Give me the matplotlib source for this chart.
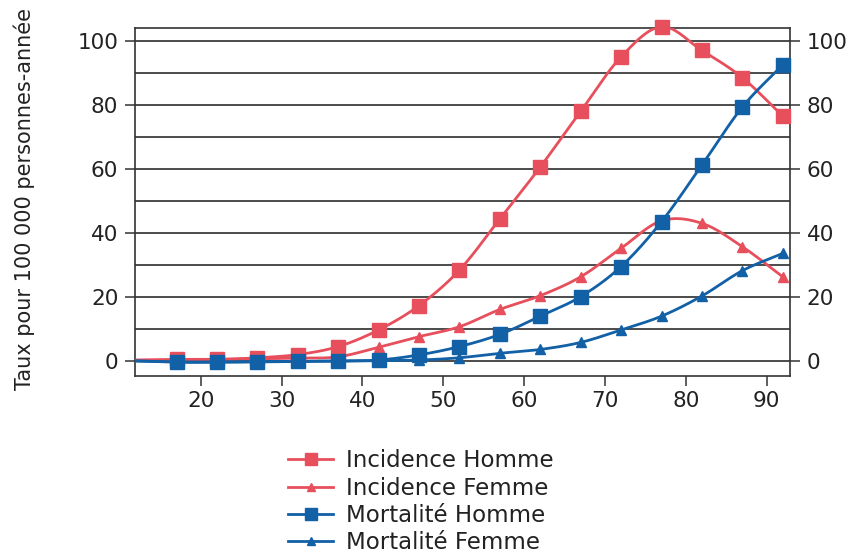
import numpy as np
import matplotlib
matplotlib.use("Agg")
import matplotlib.pyplot as plt
from matplotlib.lines import Line2D

plt.rcParams['font.family'] = ['DejaVu Sans']

ages = [12, 17, 22, 27, 32, 37, 42, 47, 52, 57, 62, 67, 72, 77, 82, 87, 92]
incidence_homme = [0.3, 0.5, 0.5, 1.0, 2.0, 4.5, 9.7, 17.3, 28.4, 44.4, 60.6, 78.0, 95.0, 104.4, 97.0, 88.5, 76.5]
incidence_femme = [0.2, 0.3, 0.5, 0.7, 0.9, 1.3, 4.3, 7.6, 10.7, 16.1, 20.4, 26.3, 35.2, 43.8, 43.0, 35.7, 26.3]
mortalite_homme = [0.0, -0.3, -0.3, -0.2, -0.1, 0.0, 0.3, 1.9, 4.5, 8.3, 14.0, 20.1, 29.5, 43.5, 61.2, 79.3, 92.5]
mortalite_femme = [0.0, -0.4, -0.4, -0.3, -0.2, -0.1, 0.1, 0.3, 1.0, 2.4, 3.6, 5.8, 9.7, 14.0, 20.3, 28.2, 33.6]

labels = ["Incidence Homme", "Incidence Femme", "Mortalité Homme", "Mortalité Femme"]
RED = "#E84F5C"
BLUE = "#1260A6"
colors = [RED, RED, BLUE, BLUE]
markers = ["s", "^", "s", "^"]
msizes = [9.5, 7.5, 9.5, 7.5]
series = [incidence_homme, incidence_femme, mortalite_homme, mortalite_femme]


def smooth(x, y, n=20):
    x = np.asarray(x, float)
    y = np.asarray(y, float)
    px = np.concatenate([[2 * x[0] - x[1]], x, [2 * x[-1] - x[-2]]])
    py = np.concatenate([[2 * y[0] - y[1]], y, [2 * y[-1] - y[-2]]])
    xs, ys = [], []
    for i in range(1, len(px) - 2):
        t = np.linspace(0, 1, n, endpoint=False)
        for arr, out in ((px, xs), (py, ys)):
            p0, p1, p2, p3 = arr[i - 1], arr[i], arr[i + 1], arr[i + 2]
            out.append(0.5 * ((2 * p1) + (-p0 + p2) * t + (2 * p0 - 5 * p1 + 4 * p2 - p3) * t ** 2
                              + (-p0 + 3 * p1 - 3 * p2 + p3) * t ** 3))
    xs.append([x[-1]])
    ys.append([y[-1]])
    return np.concatenate(xs), np.concatenate(ys)


fig = plt.figure(figsize=(8.62, 5.57), dpi=100)
ax = fig.add_axes([0.1566, 0.3255, 0.7599, 0.6242])

for s, c, m, ms in zip(series, colors, markers, msizes):
    sx, sy = smooth(ages, s)
    ax.plot(sx, sy, color=c, lw=2.0, zorder=3, clip_on=True)
    ax.plot(ages[1:], s[1:], ls='none', marker=m, ms=ms, color=c, zorder=4, clip_on=False)

ax.set_xlim(11.85, 92.9)
ax.set_ylim(-4.6, 104)
for yv in range(0, 101, 10):
    ax.axhline(yv, color="#1a1a1a", lw=1.1, zorder=1)

ax.set_xticks([20, 30, 40, 50, 60, 70, 80, 90])
ax.set_yticks([0, 20, 40, 60, 80, 100])
ax.tick_params(axis='both', direction='out', length=7, width=1.1, color="#333333",
               labelsize=15.5, labelcolor="#222222")
ax.tick_params(axis='y', left=True, right=True, labelleft=True, labelright=True, pad=5)
ax.tick_params(axis='x', pad=4)
for sp in ax.spines.values():
    sp.set_color("#333333")
    sp.set_linewidth(1.2)

fig.text(0.028, 0.642, "Taux pour 100 000 personnes-année", rotation=90, ha='center', va='center',
         fontsize=15.0, color="#222222")

handles = [Line2D([0], [0], color=c, marker=m, ms=ms - 1.5, lw=2.0) for c, m, ms in zip(colors, markers, msizes)]
fig.legend(handles, labels, loc='upper left', bbox_to_anchor=(0.323, 0.21), frameon=False,
           fontsize=16.5, handlelength=2.0, handletextpad=0.55, labelspacing=0.19, borderaxespad=0,
           labelcolor="#222222")

fig.savefig("out.png", dpi=100)
